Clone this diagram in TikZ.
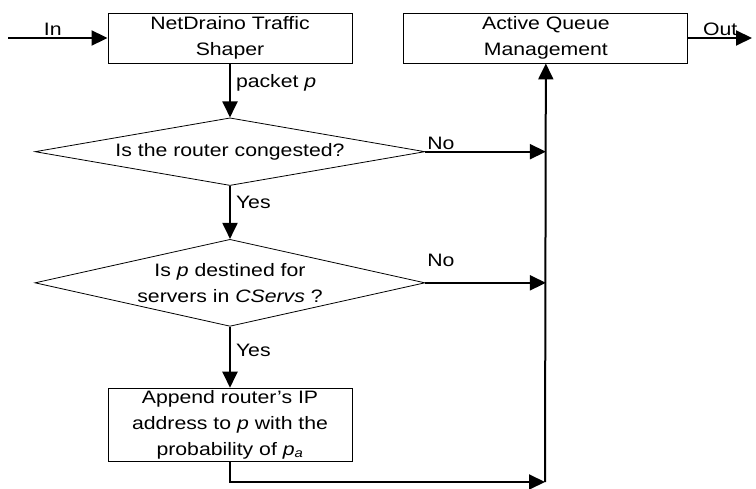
\documentclass[tikz,border=0pt]{standalone}
\usepackage{fontspec}
\setmainfont{Liberation Sans}[FakeStretch=1.18]
\usepackage{tikz}
\usetikzlibrary{positioning}
\usetikzlibrary{shapes.geometric}
\usetikzlibrary{arrows.meta}
\tikzset{
    flow chart/.style={
            x=1pt,y=-1pt,
            font=\fontsize{18}{26}\selectfont,
            arrow/.style={-{Triangle[length=16pt,width=15pt]},line width=2pt},
            box/.style={draw,line width=0.9pt,align=center,minimum width=244pt,minimum height=50pt,inner sep=0pt},
            decision/.style={draw,diamond,shape aspect=4.5,line width=0.8pt,align=center,minimum width=390pt,inner sep=0pt},
            lbl/.style={inner sep=1pt}
        }
    }

\begin{document}
\begin{tikzpicture}[flow chart]
        \useasboundingbox (0,0) rectangle (756,489);
        \node (shaper) [box] at (230,38) {NetDraino Traffic\\Shaper};
        \node (aqm) [box, minimum width=284pt, right=51pt of shaper] {Active Queue\\Management};
        \node (cong) [decision, minimum height=66pt, below=54pt of shaper] {Is the router congested?};
        \node (dest) [decision, minimum height=87pt, below=53pt of cong] {Is \textit{p} destined for\\servers in \textit{CServs} ?};
        \node (append) [box, minimum height=73pt, below=61pt of dest] {Append router's IP\\address to \textit{p} with the\\probability of {\itshape p}\textsubscript{\itshape a}};
        \coordinate (in) at (8,38);
        \coordinate (out) at (752,38);
        \coordinate (join) at (545,482);
        \draw [arrow] (in) -- (shaper) node [pos=0.45, above, lbl] {In};
        \draw [arrow] (shaper) -- (cong) node [pos=0.35, right, lbl, xshift=4pt] {packet \textit{p}};
        \draw [arrow] (cong) -- (dest) node [pos=0.32, right, lbl, xshift=4pt] {Yes};
        \draw [arrow] (dest) -- (append) node [pos=0.38, right, lbl, xshift=4pt] {Yes};
        \draw [arrow] (cong.east) -- (cong.east -| aqm) node [at start, above right, lbl] {No};
        \draw [arrow] (dest.east) -- (dest.east -| aqm) node [at start, above right, lbl, yshift=14pt] {No};
        \draw [arrow] (append) -- (append |- join) -- (join);
        \draw [arrow] (join) -- (aqm);
        \draw [arrow] (aqm) -- (out) node [midway, above, lbl] {Out};
    \end{tikzpicture}
\end{document}
